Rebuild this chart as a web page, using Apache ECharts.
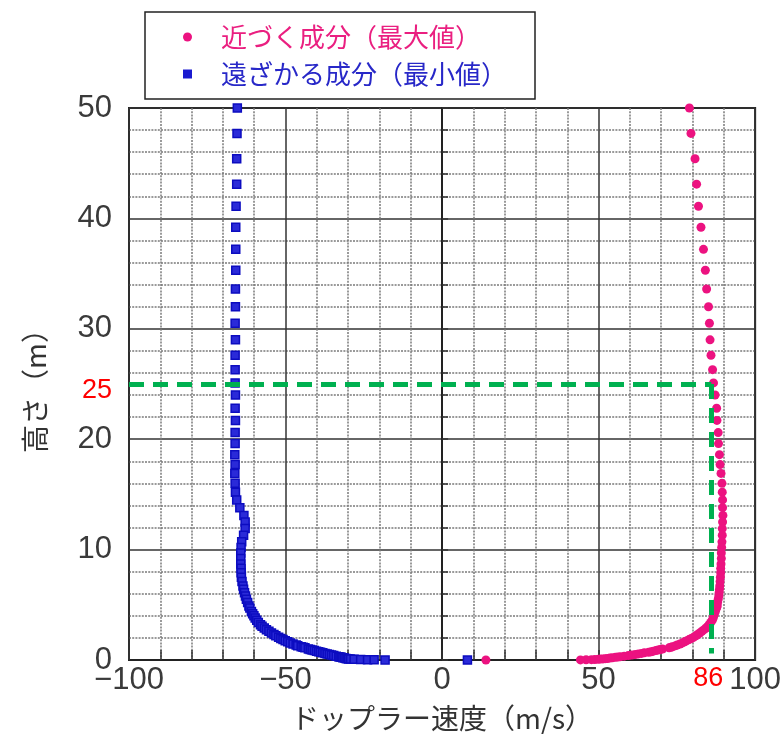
<!DOCTYPE html>
<html>
<head>
<meta charset="utf-8">
<script src="https://cdn.jsdelivr.net/npm/echarts@6/dist/echarts.min.js"></script>
<style>
html,body{margin:0;padding:0;background:#fff;}
#chart{width:784px;height:742px;}
</style>
</head>
<body>
<div id="chart"></div>
<script>
// Heights (m)
var heights = [50.0,47.7,45.4,43.1,41.1,39.2,37.2,35.3,33.6,32.0,30.5,29.0,27.6,26.3,25.1,24.0,22.8,21.7,20.6,19.6,18.6,17.7,16.9,16.0,
15.2,14.5,13.8,13.1,12.5,11.9,11.3,10.7,10.2,9.7,9.2,8.7,8.3,7.9,7.5,7.1,6.7,6.4,6.1,5.8,5.5,5.2,4.9,4.7,4.4,4.2,4.0,3.8,3.6,3.4,3.2,3.05,
2.9,2.75,2.6,2.45,2.3,2.2,2.05,1.95,1.85,1.75,1.65,1.55,1.45,1.35,1.3,1.2,1.15,1.1,1.0,0.95,0.9,0.85,0.8,0.75,0.7,0.65,0.6,0.55,0.5,0.45,
0.4,0.35,0.3,0.27,0.24,0.2,0.17,0.14,0.12,0.1,0.08,0.06,0.04,0.03,0.02,0.01,0.0];
// Approaching component (max) Doppler velocity (m/s)
var approachMax = [79.0,79.5,80.8,81.3,81.9,82.7,83.5,84.1,84.5,85.1,85.4,85.6,85.9,86.4,86.7,87.2,87.7,87.8,88.2,88.3,88.6,88.8,89.1,89.4,
89.5,89.6,89.6,89.7,89.6,89.5,89.5,89.4,89.3,89.2,89.2,89.1,89.0,89.0,88.9,88.8,88.7,88.6,88.5,88.4,88.2,88.0,87.9,87.7,87.3,87.0,86.8,86.6,86.3,85.8,85.3,84.9,
84.3,83.7,83.0,82.3,81.6,81.1,80.3,79.6,78.9,78.2,77.5,76.8,76.0,75.1,74.6,73.6,73.1,72.5,70.4,69.7,69.0,68.3,67.5,66.8,66.0,64.6,63.7,62.7,61.7,60.6,
59.5,58.2,57.0,56.2,55.4,54.4,53.6,52.8,52.1,51.4,50.6,49.9,48.8,47.7,46.0,44.2,14.0];
// Receding component (min) Doppler velocity (m/s)
var recedeMin = [-65.4,-65.5,-65.6,-65.6,-65.8,-65.9,-65.9,-65.9,-66.0,-66.0,-66.1,-66.0,-66.1,-66.1,-66.1,-66.0,-66.1,-66.0,-66.1,-66.1,-66.2,-66.1,-66.2,-66.1,
-66.0,-65.6,-64.6,-63.3,-62.9,-62.9,-63.4,-64.0,-64.2,-64.3,-64.3,-64.3,-64.2,-64.2,-64.1,-63.9,-63.6,-63.4,-63.1,-62.8,-62.5,-62.1,-61.7,-61.4,-60.9,-60.5,-60.1,-59.7,-59.2,-58.7,-58.0,-57.5,
-56.8,-56.1,-55.3,-54.5,-53.7,-53.1,-52.2,-51.5,-50.8,-50.1,-49.3,-48.5,-47.6,-46.6,-46.1,-45.0,-44.4,-43.8,-42.7,-42.1,-41.5,-40.8,-40.1,-39.4,-38.8,-38.1,-37.4,-36.7,-36.0,-35.3,
-34.6,-33.8,-33.0,-32.6,-32.2,-31.7,-31.2,-30.7,-30.3,-29.8,-29.2,-28.1,-26.0,-23.8,-21.7,-18.2,8.1];
var xTicks = [-100,-50,0,50,100];
var yTicks = [0,10,20,30,40,50];
var markHeight = 25;
var markSpeed = 86;

var seriesNames = ['近づく成分（最大値）','遠ざかる成分（最小値）'];
var xTitle = 'ドップラー速度（m/s）';
var yTitle = '高さ（m）';

var NUM = "'Liberation Sans',sans-serif";
var CJK = "'Noto Sans CJK JP','Liberation Sans',sans-serif";

function pairs(xs){ return xs.map(function(v,i){ return [v, heights[i]]; }); }

var chart = echarts.init(document.getElementById('chart'), null, {renderer:'canvas'});
var option = {
  animation:false,
  backgroundColor:'#fff',
  grid:{left:129,right:27,top:108,bottom:82,show:true,borderColor:'#222',borderWidth:2,backgroundColor:'transparent'},
  legend:{
    orient:'vertical', left:145, top:12,
    padding:[10,28,10,38], itemGap:7,
    itemWidth:9, itemHeight:9,
    borderColor:'#222', borderWidth:1.5, backgroundColor:'#fff',
    textStyle:{fontFamily:CJK,fontSize:26,lineHeight:30,padding:[0,0,0,24]},
    data:[
      {name:seriesNames[0],icon:'circle',itemStyle:{color:'#ec1280',borderWidth:0},textStyle:{color:'#ea1f80'}},
      {name:seriesNames[1],icon:'rect',itemStyle:{color:'#1a1ad0',borderWidth:0},textStyle:{color:'#2828c8'}}
    ]
  },
  xAxis:{
    type:'value', min:xTicks[0], max:xTicks[xTicks.length-1], interval:50,
    name:xTitle, nameLocation:'middle', nameGap:44,
    nameTextStyle:{fontFamily:CJK,fontSize:28,color:'#333'},
    axisLine:{show:true,lineStyle:{color:'#222',width:2}},
    axisTick:{show:true,inside:true,length:10,lineStyle:{color:'#333',width:1.5}},
    minorTick:{show:true,splitNumber:5,length:10,lineStyle:{color:'#333',width:1.5}},
    axisLabel:{fontFamily:NUM,fontSize:31,color:'#3a3a3a',margin:5,formatter:function(v){return String(v).replace('-','\u2212');}},
    splitLine:{show:true,lineStyle:{color:'#333',width:1.5}},
    minorSplitLine:{show:true,lineStyle:{color:'#7a7a7a',width:1.5,type:[2,1.2]}}
  },
  yAxis:{
    type:'value', min:yTicks[0], max:yTicks[yTicks.length-1], interval:10,
    name:yTitle, nameLocation:'middle', nameGap:80, nameRotate:90,
    nameTextStyle:{fontFamily:CJK,fontSize:28,color:'#333'},
    axisLine:{show:true,lineStyle:{color:'#222',width:2}},
    axisTick:{show:true,inside:true,length:6,lineStyle:{color:'#333',width:1.5}},
    minorTick:{show:true,splitNumber:5,length:6,lineStyle:{color:'#333',width:1.5}},
    axisLabel:{fontFamily:NUM,fontSize:31,color:'#3a3a3a',margin:17},
    splitLine:{show:true,lineStyle:{color:'#333',width:1.5}},
    minorSplitLine:{show:true,lineStyle:{color:'#7a7a7a',width:1.5,type:[2,1.2]}}
  },
  series:[
    {
      name:'guide', type:'line', data:[], silent:true,
      markLine:{
        silent:true, symbol:['none','none'], animation:false,
        label:{show:false},
        lineStyle:{color:'#00b050',width:5,type:[15,9]},
        data:[
          [{coord:[xTicks[0],markHeight]},{coord:[markSpeed,markHeight]}],
          [{coord:[markSpeed,markHeight]},{coord:[markSpeed,0.6]}]
        ]
      }
    },
    {
      name:seriesNames[0], type:'scatter', data:pairs(approachMax),
      symbol:'circle', symbolSize:9,
      itemStyle:{color:'#ec1280',opacity:1}
    },
    {
      name:seriesNames[1], type:'scatter', data:pairs(recedeMin),
      symbol:'rect', symbolSize:8,
      itemStyle:{color:'#2a2ad8',borderColor:'#0c0cc0',borderWidth:1.5,opacity:1}
    }
  ]
};
chart.setOption(option);

var p25 = chart.convertToPixel({gridIndex:0},[xTicks[0],markHeight]);
var p86 = chart.convertToPixel({gridIndex:0},[markSpeed,0]);
chart.setOption({
  graphic:[
    {type:'text',x:p25[0]-17,y:p25[1]+7,style:{text:String(markHeight),fill:'#ff0000',font:"27px 'Liberation Sans'",align:'right',verticalAlign:'middle'}},
    {type:'text',x:p86[0]-3,y:p86[1]+19,style:{text:String(markSpeed),fill:'#ff0000',font:"27px 'Liberation Sans'",align:'center',verticalAlign:'middle'}}
  ]
});
</script>
</body>
</html>
